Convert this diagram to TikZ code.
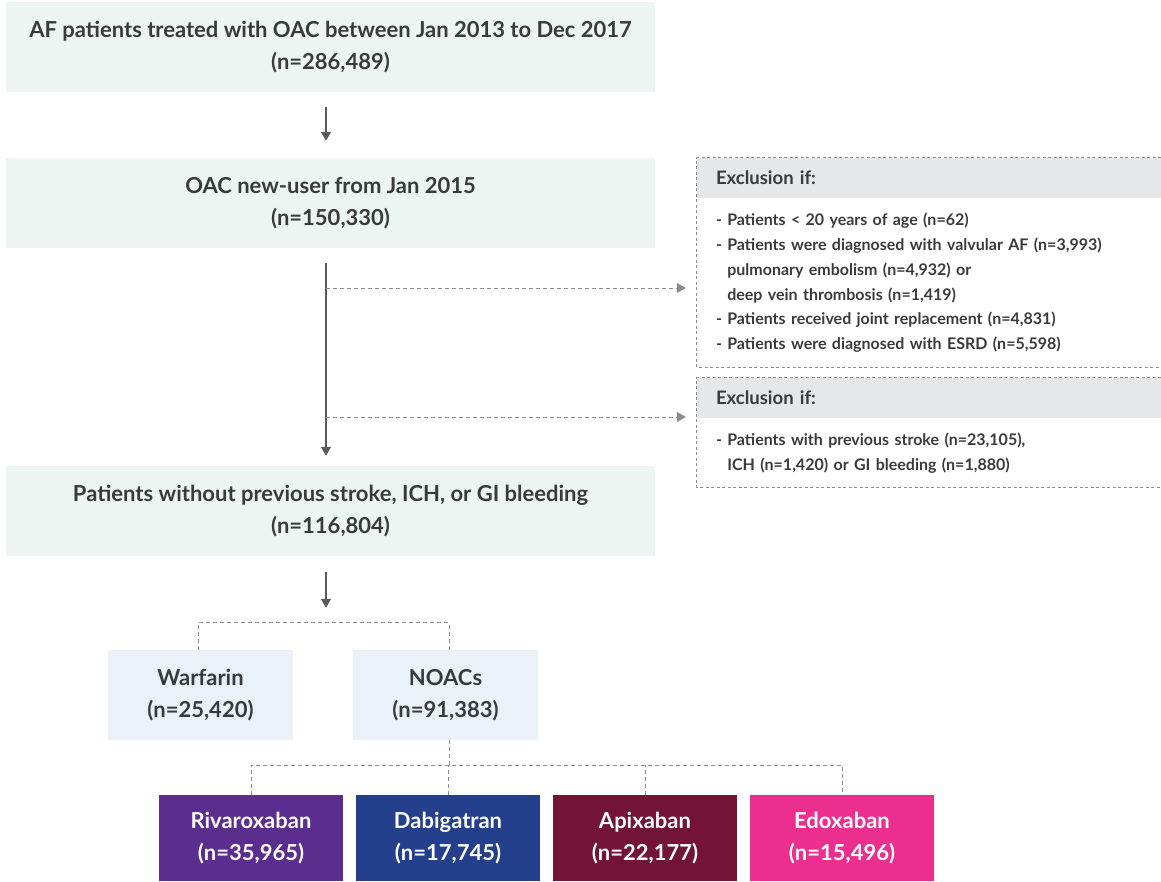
\documentclass[tikz,border=0pt]{standalone}
\usepackage{fontspec}
\setmainfont{Lato}
\usepackage{tikz}
\usetikzlibrary{arrows.meta, % for triangle tips
                positioning}

\definecolor{textgray}{HTML}{3A3A3A}
\definecolor{linegray}{HTML}{5A5A5A}
\definecolor{dashgray}{HTML}{8C8C8C}
\definecolor{stepgreen}{HTML}{EDF5F2}
\definecolor{drugblue}{HTML}{EAF1F9}
\definecolor{headgray}{HTML}{E6E7E8}
\definecolor{rivacol}{HTML}{5B2D8E}
\definecolor{dabicol}{HTML}{243F8C}
\definecolor{apixcol}{HTML}{731436}
\definecolor{edoxcol}{HTML}{EC2F8F}

\begin{document}
\begin{tikzpicture}[x=1pt, y=-1pt,
                    stepbox/.style={fill=stepgreen, minimum width=649pt, minimum height=90pt, align=center,
                                    text=textgray, font=\bfseries\fontsize{22}{32}\selectfont, inner sep=0},
                    drugbox/.style={fill=drugblue, minimum width=185pt, minimum height=90pt, align=center,
                                    text=textgray, font=\bfseries\fontsize{22}{32}\selectfont, inner sep=0},
                    noacbox/.style={fill=#1, minimum width=184pt, minimum height=86pt, align=center,
                                    text=white, font=\bfseries\fontsize{22}{32}\selectfont, inner sep=0},
                    exhead/.style={fill=headgray, minimum width=464pt, minimum height=40pt, text width=426pt,
                                   align=left, text=textgray, font=\bfseries\fontsize{18.5}{24}\selectfont, inner sep=0},
                    exbody/.style={minimum width=464pt, minimum height=#1, text width=426pt,
                                   align=left, text=textgray, font=\bfseries\fontsize{16}{24.8}\selectfont, inner sep=0},
                    exborder/.style={draw=dashgray, line width=0.9pt, dash pattern=on 3pt off 2.5pt},
                    flow/.style={draw=linegray, line width=1.5pt, -{Triangle[width=10pt,length=9pt]}},
                    branch/.style={draw=dashgray, line width=1pt, dash pattern=on 4pt off 3pt},
                    branchto/.style={branch, -{Triangle[width=10pt,length=9pt]}, shorten >=11pt}
                    ]
    \useasboundingbox (0,0) rectangle (1161,881);
    \newcommand{\cont}{\phantom{- }}

    % main steps
    \node[stepbox] at (330.5,47)  (cohort) {AF patients treated with OAC between Jan 2013 to Dec 2017\\(n=286,489)};
    \node[stepbox] at (330.5,203) (newuser) {OAC new-user from Jan 2015\\(n=150,330)};
    \node[stepbox] at (330.5,511) (nostroke) {Patients without previous stroke, ICH, or GI bleeding\\(n=116,804)};

    % exclusion boxes
    \node[exhead] at (929,178) (exA) {Exclusion if:};
    \node[exbody=169pt, below=0pt of exA] (exAbody) {- Patients < 20 years of age (n=62)\\
        - Patients were diagnosed with valvular AF (n=3,993)\\
        \cont pulmonary embolism (n=4,932) or\\
        \cont deep vein thrombosis (n=1,419)\\
        - Patients received joint replacement (n=4,831)\\
        - Patients were diagnosed with ESRD (n=5,598)};
    \node[exhead] at (929,398) (exB) {Exclusion if:};
    \node[exbody=69pt, below=0pt of exB] (exBbody) {- Patients with previous stroke (n=23,105),\\
        \cont ICH (n=1,420) or GI bleeding (n=1,880)};
    \draw[exborder] (exA.north east) -- (exA.north west) -- (exAbody.south west) -- (exAbody.south east);
    \draw[exborder] (exB.north east) -- (exB.north west) -- (exBbody.south west) -- (exBbody.south east);

    % anticoagulant groups
    \node[drugbox] at (200.5,695) (warfarin) {Warfarin\\(n=25,420)};
    \node[drugbox] at (445.5,695) (noacs) {NOACs\\(n=91,383)};
    \node[noacbox=rivacol] at (251,838) (riva) {Rivaroxaban\\(n=35,965)};
    \node[noacbox=dabicol] at (448,838) (dabi) {Dabigatran\\(n=17,745)};
    \node[noacbox=apixcol] at (645,838) (apix) {Apixaban\\(n=22,177)};
    \node[noacbox=edoxcol] at (842,838) (edox) {Edoxaban\\(n=15,496)};

    % solid arrows
    \draw[flow, shorten <=15pt, shorten >=17pt] ([xshift=-4.5pt]cohort.south) -- ([xshift=-4.5pt]newuser.north);
    \draw[flow, shorten <=15pt, shorten >=10pt] ([xshift=-4.5pt]newuser.south) -- ([xshift=-4.5pt]nostroke.north);
    \draw[flow, shorten <=16pt, shorten >=42pt] ([xshift=-4.5pt]nostroke.south) -- ([xshift=-4.5pt]nostroke.south |- warfarin.north);

    % dashed branches to exclusions
    \coordinate (splitA) at (326,288);
    \coordinate (splitB) at (326,417);
    \draw[branchto] (splitA) -- (splitA -| exA.west);
    \draw[branchto] (splitB) -- (splitB -| exB.west);

    % dashed brackets
    \draw[branch] ([xshift=-2.5pt]warfarin.north) -- ++(0,-27) -| ([xshift=3.5pt]noacs.north);
    \coordinate (split) at (449,765);
    \draw[branch] ([xshift=3.5pt]noacs.south) -- (split);
    \draw[branch] (riva.north) |- (split) -| (edox.north);
    \draw[branch] (dabi.north) -- (dabi.north |- split);
    \draw[branch] (apix.north) -- (apix.north |- split);
\end{tikzpicture}
\end{document}
